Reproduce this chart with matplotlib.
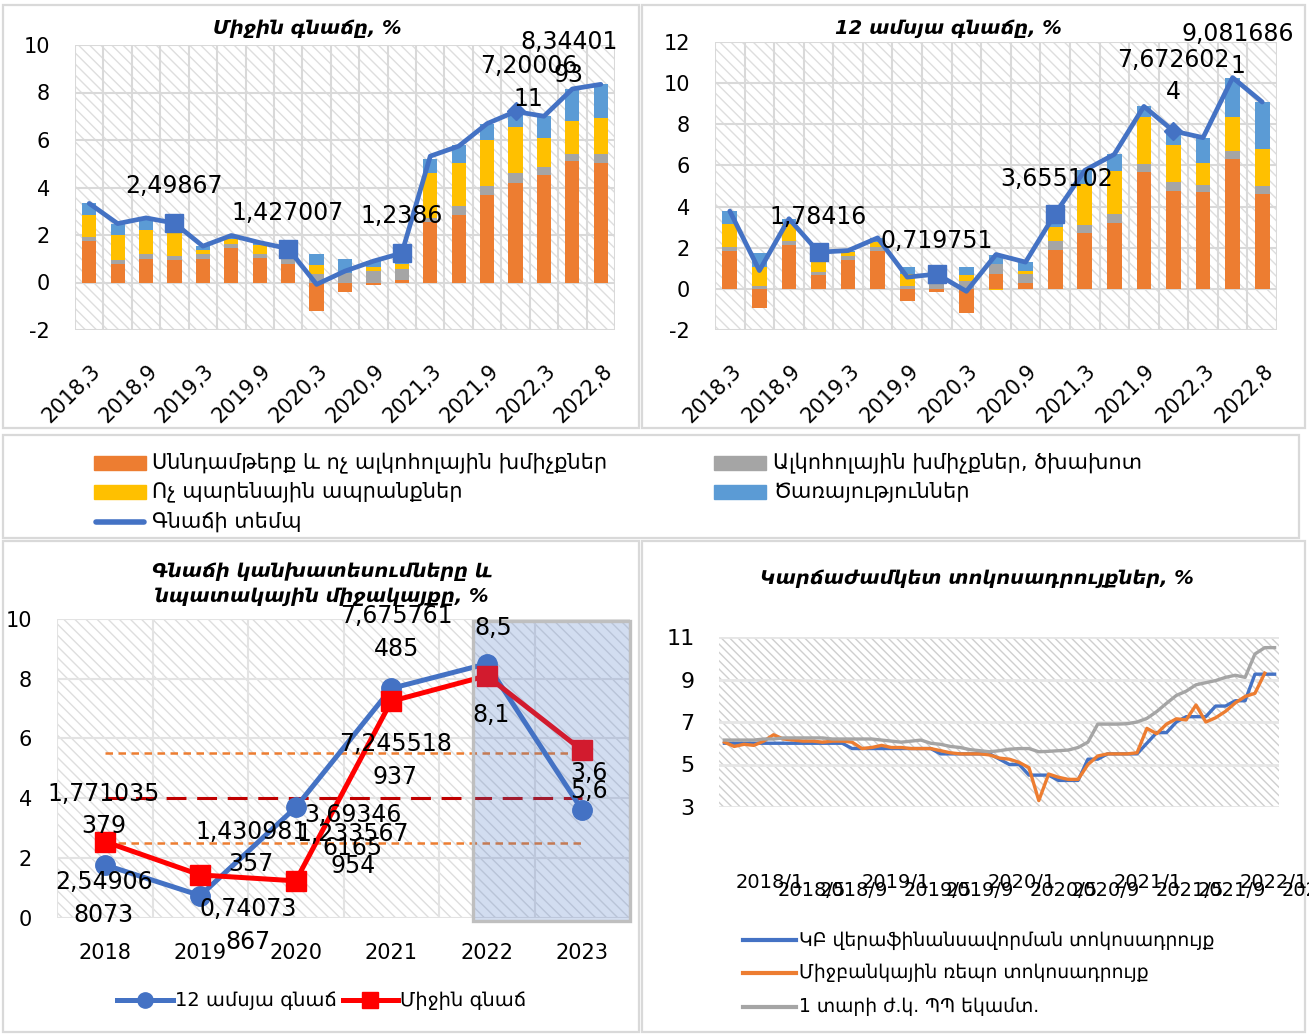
import numpy as np
import matplotlib
matplotlib.use('Agg')
import matplotlib.pyplot as plt
from matplotlib.patches import Rectangle
from matplotlib.lines import Line2D
from matplotlib.transforms import ScaledTranslation, blended_transform_factory

plt.rcParams['font.family'] = ['DejaVu Sans']
plt.rcParams['axes.unicode_minus'] = False
plt.rcParams['hatch.linewidth'] = 1.0

W, H = 1309, 1035

ORANGE = '#ED7D31'
GRAY = '#A5A5A5'
YELLOW = '#FFC000'
LBLUE = '#5B9BD5'
BLUE = '#4472C4'
RED = '#FF0000'
GRID = '#D9D9D9'

# ---- quarterly CPI contributions ----
quarters = ['2018,3', '2018,6', '2018,9', '2018,12', '2019,3', '2019,6', '2019,9', '2019,12',
            '2020,3', '2020,6', '2020,9', '2020,12', '2021,3', '2021,6', '2021,9', '2021,12',
            '2022,3', '2022,6', '2022,8']

# average inflation (top-left)
avg_food = [1.74, 0.76, 1.0, 0.94, 1.0, 1.46, 1.04, 0.76, -1.21, -0.41, -0.11, 0.12,
            2.55, 2.86, 3.68, 4.2, 4.52, 5.11, 5.04]
avg_alc = [0.17, 0.18, 0.18, 0.17, 0.18, 0.18, 0.18, 0.21, 0.34, 0.41, 0.48, 0.43,
           0.17, 0.38, 0.4, 0.39, 0.33, 0.32, 0.35]
avg_nonfood = [0.95, 1.04, 1.05, 0.98, 0.18, 0.2, 0.34, 0.11, 0.39, 0.0, 0.17, 0.21,
               1.9, 1.8, 1.91, 1.95, 1.24, 1.39, 1.52]
avg_serv = [0.49, 0.5, 0.49, 0.4, 0.17, 0.1, 0.12, 0.35, 0.45, 0.59, 0.25, 0.48,
            0.6, 0.77, 0.7, 0.67, 0.91, 1.31, 1.46]
avg_total = [3.33, 2.48, 2.72, 2.49867, 1.53, 1.98, 1.68, 1.427007, -0.08, 0.48, 0.9, 1.2386,
             5.32, 5.74, 6.69, 7.2000611, 7.0, 8.15, 8.3440193]
avg_labels = {3: '2,49867', 7: '1,427007', 11: '1,2386', 15: '7,20006\n11', 18: '8,34401\n93'}
avg_label_off = {3: (0, -37), 7: (-1, -36), 11: (0, -37), 15: (13, -29), 18: (-32, -26)}

# 12-month inflation (top-right)
yoy_food = [1.86, -0.92, 2.14, 0.65, 1.38, 1.83, -0.6, -0.16, -1.19, 0.73, 0.28, 1.9,
            2.71, 3.21, 5.68, 4.75, 4.7, 6.33, 4.62]
yoy_alc = [0.17, 0.16, 0.21, 0.16, 0.24, 0.2, 0.16, 0.24, 0.37, 0.49, 0.45, 0.42,
           0.4, 0.41, 0.4, 0.44, 0.36, 0.35, 0.36]
yoy_nonfood = [1.1, 0.89, 0.78, 0.49, 0.16, 0.24, 0.54, 0.11, 0.31, -0.04, 0.13, 0.71,
               2.0, 2.1, 2.27, 1.78, 1.05, 1.67, 1.8]
yoy_serv = [0.65, 0.7, 0.28, 0.48, 0.08, 0.2, 0.35, 0.37, 0.4, 0.45, 0.44, 0.62,
            0.65, 0.82, 0.52, 0.7, 1.24, 1.92, 2.3]
yoy_total = [3.78, 0.89, 3.41, 1.78416, 1.86, 2.48, 0.57, 0.719751, -0.12, 1.67, 1.3, 3.655102,
             5.76, 6.54, 8.87, 7.6726024, 7.35, 10.27, 9.0816861]
yoy_labels = {3: '1,78416', 7: '0,719751', 11: '3,655102', 15: '7,672602\n4', 18: '9,081686\n1'}
yoy_label_off = {3: (0, -35), 7: (0, -33), 11: (1, -35), 15: (0, -55), 18: (-24, -52)}

square_idx = [3, 7, 11]
diamond_idx = [15]

# ---- forecasts (bottom-left) ----
years = ['2018', '2019', '2020', '2021', '2022', '2023']
infl_12m = [1.771035379, 0.74073867, 3.693466165, 7.675761485, 8.5, 3.6]
infl_avg = [2.549068073, 1.430981357, 1.233567954, 7.245518937, 8.1, 5.6]
infl_12m_lbl = ['1,771035\n379', '0,74073\n867', '3,69346\n6165', '7,675761\n485', '8,5', '3,6']
infl_avg_lbl = ['2,54906\n8073', '1,430981\n357', '1,233567\n954', '7,245518\n937', '8,1', '5,6']
infl_12m_off = [(-1, -55), (48, 30), (57, 24), (5, -56), (6, -36), (7, -37)]
infl_avg_off = [(-1, 57), (51, -27), (57, -31), (4, 59), (4, 39), (7, 41)]
target = 4.0
band_low, band_high = 2.5, 5.5
forecast_from = 3.86

# ---- short-term rates (bottom-right), monthly 2018/1 .. 2022/9 ----
refi_rate = ([6.0] * 13 + [5.75] * 9 + [5.5] * 6 + [5.25] + [5.0] * 2 + [4.5] * 3 + [4.25] * 3 +
             [5.25] * 2 + [5.5] * 4 + [6.0] + [6.5] * 2 + [7.0] + [7.25] * 3 + [7.75] * 2 +
             [8.0] * 2 + [9.25] * 3)
repo_rate = [6.05, 5.85, 5.95, 5.9, 6.1, 6.4, 6.2, 6.15, 6.1, 6.1, 6.05, 6.1, 6.1, 6.05,
             5.75, 5.8, 5.9, 5.8, 5.8, 5.75, 5.75, 5.75, 5.65, 5.55, 5.5, 5.5, 5.5, 5.45,
             5.3, 5.25, 5.1, 4.85, 3.3, 4.55, 4.4, 4.3, 4.3, 5.0, 5.4, 5.5, 5.5, 5.5,
             5.55, 6.7, 6.45, 6.9, 7.15, 7.1, 7.8, 7.0, 7.2, 7.5, 7.9, 8.2, 8.35, 9.3, np.nan]
tbill_1y = [6.15, 6.15, 6.15, 6.15, 6.2, 6.2, 6.25, 6.25, 6.25, 6.25, 6.25, 6.2, 6.2, 6.2,
            6.2, 6.2, 6.15, 6.1, 6.05, 6.1, 6.15, 6.0, 5.95, 5.85, 5.8, 5.7, 5.65, 5.6,
            5.65, 5.72, 5.75, 5.75, 5.6, 5.62, 5.65, 5.68, 5.8, 6.05, 6.9, 6.9, 6.9, 6.92,
            7.0, 7.17, 7.49, 7.88, 8.25, 8.45, 8.75, 8.85, 8.95, 9.1, 9.2, 9.1, 10.2, 10.5, 10.5]
rate_ticks = ['2018/1', '2018/5', '2018/9', '2019/1', '2019/5', '2019/9', '2020/1', '2020/5',
              '2020/9', '2021/1', '2021/5', '2021/9', '2022/1', '2022/5', '2022/9']

legend_items = [('patch', ORANGE, 'Սննդամթերք և ոչ ալկոհոլային խմիչքներ'),
                ('patch', YELLOW, 'Ոչ պարենային ապրանքներ'),
                ('line', BLUE, 'Գնաճի տեմպ'),
                ('patch', GRAY, 'Ալկոհոլային խմիչքներ, ծխախոտ'),
                ('patch', LBLUE, 'Ծառայություններ')]


def frac(x0, y0, x1, y1):
    return [x0 / W, 1 - y1 / H, (x1 - x0) / W, (y1 - y0) / H]


def box(fig, x0, y0, x1, y1):
    fig.add_artist(Rectangle((x0 / W, 1 - y1 / H), (x1 - x0) / W, (y1 - y0) / H,
                             transform=fig.transFigure, fill=False, edgecolor=GRID, lw=1.6))


def ftext(fig, x, y, s, **kw):
    fig.text(x / W, 1 - y / H, s, **kw)


def hatch_bg(ax, hatch, color):
    ax.add_patch(Rectangle((0, 0), 1, 1, transform=ax.transAxes, facecolor='white',
                           edgecolor=color, hatch=hatch, lw=0, zorder=0))


def clean(ax):
    for s in ax.spines.values():
        s.set_visible(False)
    ax.tick_params(which='both', length=0)


def cpi_panel(fig, rect, comps, total, labels, offs, ylim):
    ax = fig.add_axes(frac(*rect))
    hatch_bg(ax, '\\\\\\', '#DEDEDE')
    n = len(total)
    x = np.arange(n)
    pos = np.zeros(n)
    neg = np.zeros(n)
    for vals, c in zip(comps, [ORANGE, GRAY, YELLOW, LBLUE]):
        v = np.asarray(vals, float)
        ax.bar(x, v, 0.5, bottom=np.where(v >= 0, pos, neg), color=c, zorder=2)
        pos += np.clip(v, 0, None)
        neg += np.clip(v, None, 0)
    tot = np.asarray(total)
    ax.plot(x, tot, color=BLUE, lw=3.4, solid_joinstyle='round', solid_capstyle='round', zorder=3)
    ax.plot(x[square_idx], tot[square_idx], 's', ms=13, color=BLUE, zorder=3)
    ax.plot(x[diamond_idx], tot[diamond_idx], 'D', ms=9, color=BLUE, zorder=3)
    for i, s in labels.items():
        dx, dy = offs[i]
        ax.annotate(s, (x[i], tot[i]), xytext=(dx, -dy), textcoords='offset pixels',
                    ha='center', va='center', fontsize=17, linespacing=1.45, zorder=5)
    ax.set_xlim(-0.5, n - 0.5)
    ax.set_ylim(*ylim)
    ax.set_yticks(np.arange(ylim[0], ylim[1] + 1, 2))
    ax.set_xticks(x[::2])
    ax.set_xticklabels(quarters[::2], rotation=45, ha='right', va='center',
                       rotation_mode='anchor')
    ax.set_xticks(np.arange(-0.5, n), minor=True)
    ax.grid(which='minor', axis='x', color=GRID, lw=1.5)
    ax.grid(which='major', axis='y', color=GRID, lw=1.5)
    clean(ax)
    ax.tick_params(axis='y', pad=18, labelsize=15)
    ax.tick_params(axis='x', pad=27, labelsize=15)
    for lbl in ax.get_xticklabels():
        lbl.set_transform(lbl.get_transform() + ScaledTranslation(0.08, 0, fig.dpi_scale_trans))
    return ax


fig = plt.figure(figsize=(W / 100, H / 100), dpi=100)

# panel frames
box(fig, 3, 5, 639, 428)
box(fig, 642, 5, 1305, 428)
box(fig, 3, 435, 1299, 538)
box(fig, 3, 541, 639, 1032)
box(fig, 642, 541, 1305, 1032)

# top-left: average inflation
cpi_panel(fig, (75, 45, 615, 330), [avg_food, avg_alc, avg_nonfood, avg_serv], avg_total,
          avg_labels, avg_label_off, (-2, 10))
ftext(fig, 307, 28, 'Միջին գնաճը, %', ha='center', va='center', fontsize=14,
      fontweight='bold', fontstyle='italic')

# top-right: 12-month inflation
cpi_panel(fig, (715, 42, 1277, 330), [yoy_food, yoy_alc, yoy_nonfood, yoy_serv], yoy_total,
          yoy_labels, yoy_label_off, (-2, 12))
ftext(fig, 948, 29, '12 ամսյա գնաճը, %', ha='center', va='center', fontsize=14,
      fontweight='bold', fontstyle='italic')

# shared legend
cols = [(94, 152), (94, 152), (94, 152), (714, 773), (714, 773)]
rows = [463, 492, 522, 463, 492]
for (kind, color, text), (hx, tx), y in zip(legend_items, cols, rows):
    if kind == 'patch':
        fig.add_artist(Rectangle((hx / W, 1 - (y + 7) / H), 52 / W, 14 / H,
                                 transform=fig.transFigure, color=color))
    else:
        fig.add_artist(Line2D([(hx + 2) / W, (hx + 50) / W], [1 - y / H] * 2,
                              transform=fig.transFigure, color=color, lw=4, solid_capstyle='round'))
    ftext(fig, tx, y, text, ha='left', va='center', fontsize=15)

# bottom-left: forecasts and target band
ax = fig.add_axes(frac(57, 619, 630, 917.7))
hatch_bg(ax, '\\\\\\', '#DEDEDE')
xi = np.arange(len(years))
ends = xi[[0, -1]]
ax.plot(ends, [band_high] * 2, color=ORANGE, lw=1.8, dashes=(3, 2.2), zorder=2)
ax.plot(ends, [band_low] * 2, color=ORANGE, lw=1.8, dashes=(3, 2.2), zorder=2)
ax.plot(ends, [target] * 2, color='#C00000', lw=2.2, dashes=(6.5, 3.5), zorder=2)
ax.plot(xi, infl_12m, color=BLUE, lw=3.6, marker='o', ms=14, zorder=3)
ax.plot(xi, infl_avg, color=RED, lw=3.6, marker='s', ms=14, zorder=3)
trans = blended_transform_factory(ax.transData, ax.transAxes)
ax.add_patch(Rectangle((forecast_from, -0.012), len(years) - 0.5 - forecast_from, 1.005,
                       transform=trans, facecolor=(0.267, 0.447, 0.769, 0.24),
                       edgecolor='#BFBFBF', lw=2.4, zorder=4, clip_on=False))
for vals, lbls, offs in [(infl_12m, infl_12m_lbl, infl_12m_off), (infl_avg, infl_avg_lbl, infl_avg_off)]:
    for i, (v, s, (dx, dy)) in enumerate(zip(vals, lbls, offs)):
        ax.annotate(s, (xi[i], v), xytext=(dx, -dy), textcoords='offset pixels',
                    ha='center', va='center', fontsize=17, linespacing=1.45, zorder=6)
ax.set_xlim(-0.5, len(years) - 0.5)
ax.set_ylim(0, 10)
ax.set_yticks(range(0, 11, 2))
ax.set_xticks(xi)
ax.set_xticklabels(years)
ax.set_xticks(np.arange(-0.5, len(years), 0.5), minor=True)
ax.grid(which='minor', axis='x', color='#E3E3E3', lw=1.5)
ax.grid(which='major', axis='y', color='#E3E3E3', lw=1.5)
clean(ax)
ax.tick_params(axis='y', pad=18, labelsize=15)
ax.tick_params(axis='x', pad=18, labelsize=15)
ftext(fig, 322, 584, 'Գնաճի կանխատեսումները և\nնպատակային միջակայքը, %', ha='center',
      va='center', fontsize=14, fontweight='bold', fontstyle='italic', linespacing=1.45)
fig.add_artist(Line2D([117 / W, 173 / W], [1 - 1000 / H] * 2, transform=fig.transFigure,
                      color=BLUE, lw=3.6))
fig.add_artist(Line2D([145 / W], [1 - 1000 / H], transform=fig.transFigure,
                      color=BLUE, marker='o', ms=11, lw=0))
ftext(fig, 175, 1000, '12 ամսյա գնաճ', ha='left', va='center', fontsize=14)
fig.add_artist(Line2D([343 / W, 398 / W], [1 - 1000 / H] * 2, transform=fig.transFigure,
                      color=RED, lw=3.6))
fig.add_artist(Line2D([370 / W], [1 - 1000 / H], transform=fig.transFigure,
                      color=RED, marker='s', ms=11, lw=0))
ftext(fig, 400, 1000, 'Միջին գնաճ', ha='left', va='center', fontsize=14)

# bottom-right: short-term rates
narrow = ['Liberation Sans Narrow', 'DejaVu Sans']
ax = fig.add_axes(frac(719.5, 637, 1279.5, 807))
hatch_bg(ax, '\\\\\\\\', '#CFCFCF')
m = np.arange(len(refi_rate))
ax.plot(m, refi_rate, color=BLUE, lw=2.4, zorder=3)
ax.plot(m, repo_rate, color=ORANGE, lw=2.4, zorder=3)
ax.plot(m, tbill_1y, color=GRAY, lw=2.4, zorder=3)
ax.set_xlim(-0.5, len(m) - 0.5)
ax.set_ylim(3, 11)
ax.set_yticks(range(3, 12, 2))
ax.set_xticks([])
ax.grid(which='major', axis='y', color='#E6E6E6', lw=2)
clean(ax)
ax.tick_params(axis='y', pad=18, labelsize=16)
for t in ax.get_yticklabels():
    t.set_family(narrow)
for k, s in enumerate(rate_ticks):
    ftext(fig, 736 + 42 * k, 883 if s.endswith('/1') else 890, s, ha='left', va='center',
          fontsize=14, family=narrow)
ftext(fig, 977, 578, 'Կարճաժամկետ տոկոսադրույքներ, %', ha='center', va='center', fontsize=14,
      fontweight='bold', fontstyle='italic')
rate_legend = [(BLUE, 'ԿԲ վերաֆինանսավորման տոկոսադրույք', 940),
               (ORANGE, 'Միջբանկային ռեպո տոկոսադրույք', 973),
               (GRAY, '1 տարի ժ.կ. ՊՊ եկամտ.', 1007)]
for color, text, y in rate_legend:
    fig.add_artist(Line2D([743 / W, 796 / W], [1 - y / H] * 2, transform=fig.transFigure,
                          color=color, lw=3))
    ftext(fig, 799, y, text, ha='left', va='center', fontsize=13.5)

fig.savefig('out.png', dpi=100)
